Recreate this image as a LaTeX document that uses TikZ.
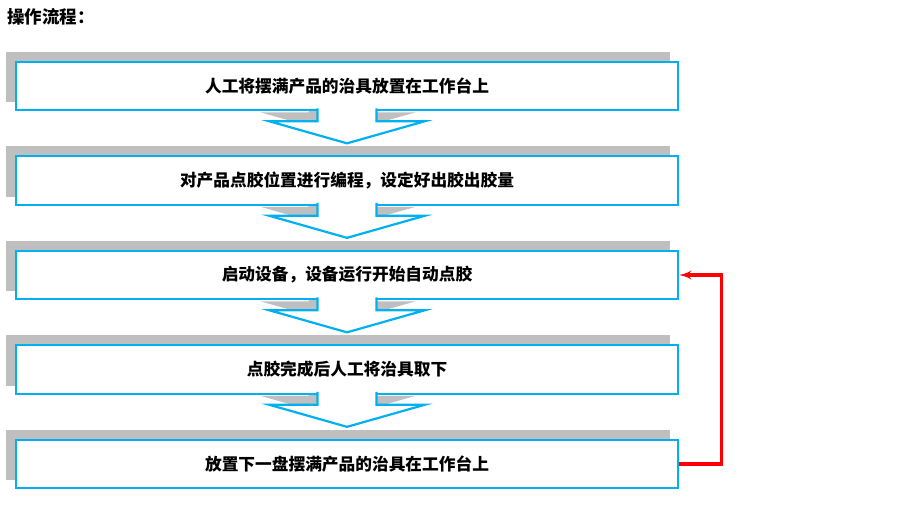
\documentclass[tikz,border=0pt]{standalone}
\usepackage{fontspec}
\setmainfont{Noto Sans CJK SC}
\usepackage{tikz}
\usetikzlibrary{calc, arrows, positioning, backgrounds}

\definecolor{flowblue}{RGB}{0,176,240}
\definecolor{shadowgray}{RGB}{191,191,191}
\definecolor{backred}{RGB}{255,0,0}

\begin{document}
\begin{tikzpicture}[x=1pt,y=1pt,node distance=94.5pt,>=latex',
  stepbox/.style={draw=flowblue,line width=2.2pt,fill=white,minimum width=662pt,minimum height=48.5pt,inner sep=0pt,font=\bfseries\fontsize{16.7}{20}\selectfont},
  chevron/.style={draw=flowblue,line width=2.2pt,fill=white},
  shadowfill/.style={fill=shadowgray}]
\useasboundingbox (0,0) rectangle (900,510);
\node [anchor=west,inner sep=0pt,font=\bfseries\fontsize{17.5}{20}\selectfont] (title) at (7,493) {操作流程：};
\node [stepbox] (S1) at (347,424)  {人工将摆满产品的治具放置在工作台上};
\node [stepbox] [below of=S1] (S2) {对产品点胶位置进行编程，设定好出胶出胶量};
\node [stepbox] [below of=S2] (S3) {启动设备，设备运行开始自动点胶};
\node [stepbox] [below of=S3] (S4) {点胶完成后人工将治具取下};
\node [stepbox] [below of=S4] (S5) {放置下一盘摆满产品的治具在工作台上};
\foreach \i in {1,...,4}
  \draw [chevron] ($ (S\i.south) + (-29.5,3) $) -- ++(0,-13) -- ++(-48,0) -- ++(77.5,-22) -- ++(77.5,22) -- ++(-48,0) -- ++(0,13);
\begin{scope}[on background layer]
\foreach \i in {1,...,5}
  \fill [shadowfill] ($ (S\i.north west) + (-9,9) $) rectangle ($ (S\i.south east) + (-9,9) $);
\foreach \i in {1,...,4}
  \fill [shadowfill] ($ (S\i.south) + (-38.5,12) $) -- ++(0,-13) -- ++(-48,0) -- ++(77.5,-22) -- ++(77.5,22) -- ++(-48,0) -- ++(0,13) -- cycle;
\end{scope}
\draw [->,draw=backred,line width=3.2pt] (S5.east) -- ++(42,0) |- (S3.east);
\end{tikzpicture}
\end{document}
